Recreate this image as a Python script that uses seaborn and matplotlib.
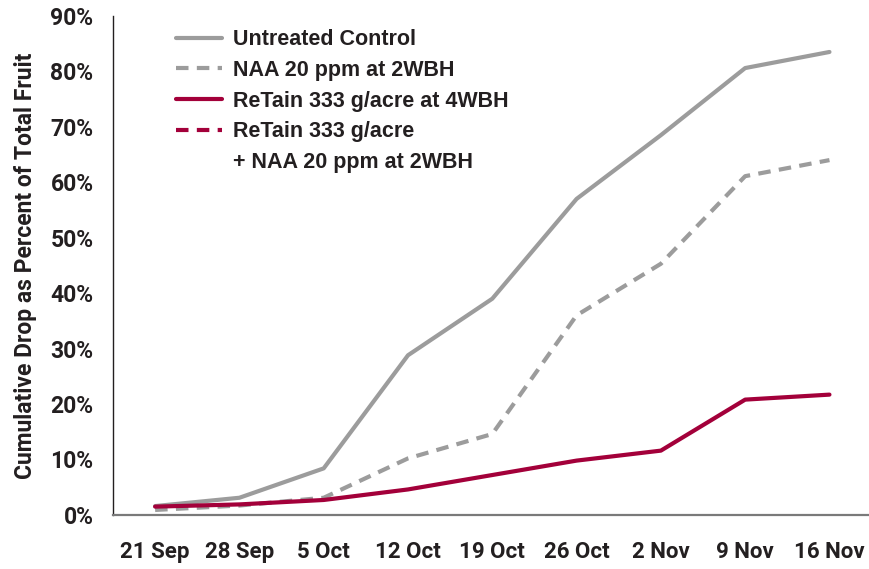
import pandas as pd
import seaborn as sns
import matplotlib.pyplot as plt
from matplotlib.lines import Line2D
from matplotlib.ticker import FuncFormatter, FixedLocator

# data (percent of total fruit)
dates = ['21 Sep', '28 Sep', '5 Oct', '12 Oct', '19 Oct', '26 Oct', '2 Nov', '9 Nov', '16 Nov']
control = [1.6, 3.1, 8.4, 28.8, 39.0, 57.0, 68.5, 80.6, 83.5]
naa = [0.9, 1.7, 3.1, 10.2, 14.6, 36.0, 45.3, 61.1, 64.0]
retain = [1.5, 1.9, 2.7, 4.6, 7.2, 9.8, 11.6, 20.8, 21.7]

gray = '#9c9c9c'
red = '#a3003a'
ink = '#231f20'

df = pd.DataFrame({'pos': range(len(dates)), 'date': dates,
                   'control': control, 'naa': naa, 'retain': retain})

sns.set_style('white')
plt.rcParams['font.family'] = ['Roboto', 'DejaVu Sans']

fig = plt.figure(figsize=(8.69, 5.69), dpi=100)
ax = fig.add_axes([0.13, 0.095, 0.873, 0.877])

lw = 3.0
sns.lineplot(data=df, x='pos', y='control', color=gray, lw=lw, ax=ax)
sns.lineplot(data=df, x='pos', y='naa', color=gray, lw=lw, ax=ax, dashes=False)
ax.lines[-1].set_dashes((3, 2))
sns.lineplot(data=df, x='pos', y='retain', color=red, lw=lw, ax=ax)

ax.set_xlim(-0.5, 8.5)
ax.set_ylim(0, 90)
ax.set_yticks(range(0, 91, 10))
ax.yaxis.set_major_formatter(FuncFormatter(lambda v, p: f'{v:.0f}%'))
ax.set_xticks(range(len(dates)))
ax.set_xticklabels(dates)
ax.xaxis.set_minor_locator(FixedLocator([i - 0.5 for i in range(len(dates) + 1)]))

ax.tick_params(axis='x', which='major', length=0, pad=19, labelsize=16, labelcolor=ink)
ax.tick_params(axis='x', which='minor', length=7, width=1.2, color='#555555', direction='out')
ax.tick_params(axis='y', length=6, width=1.0, color=ink, direction='out', labelsize=16.5,
               labelcolor=ink, pad=8)
for lab in ax.get_xticklabels() + ax.get_yticklabels():
    lab.set_fontweight('bold')

ax.set_xlabel('')
ax.set_ylabel('Cumulative Drop as Percent of Total Fruit', fontsize=16.5, fontweight='bold',
              color=ink, labelpad=10)

sns.despine(ax=ax)
ax.spines['left'].set_color(ink)
ax.spines['left'].set_linewidth(1.0)
ax.spines['bottom'].set_color('#7a7a7a')
ax.spines['bottom'].set_linewidth(1.6)

handles = [
    Line2D([], [], color=gray, lw=lw),
    Line2D([], [], color=gray, lw=lw, dashes=(3, 2)),
    Line2D([], [], color=red, lw=lw),
    Line2D([], [], color=red, lw=lw, dashes=(3, 2)),
    Line2D([], [], color='none', lw=lw),
]
labels = ['Untreated Control', 'NAA 20 ppm at 2WBH', 'ReTain 333 g/acre at 4WBH',
          'ReTain 333 g/acre', '+ NAA 20 ppm at 2WBH']
leg = ax.legend(handles, labels, loc='upper left', bbox_to_anchor=(0.058, 1.012),
                frameon=False, handlelength=2.1, handletextpad=0.55, labelspacing=0.45,
                prop={'family': ['Liberation Sans', 'DejaVu Sans'], 'weight': 'bold', 'size': 15.5})
for t in leg.get_texts():
    t.set_color(ink)

fig.savefig('out.png', dpi=100)
